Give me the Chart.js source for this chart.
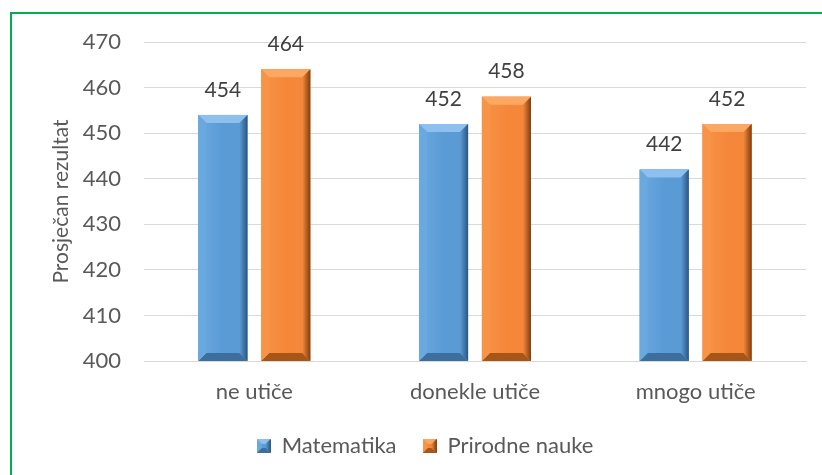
<!DOCTYPE html>
<html>
<head>
<meta charset="utf-8">
<script src="https://cdn.jsdelivr.net/npm/chart.js@4/dist/chart.umd.min.js"></script>
<style>
  html, body { margin: 0; padding: 0; background: #fff; overflow: hidden; }
  #frame { position: absolute; left: 10px; top: 12px; width: 840px; height: 500px; border: 2px solid #00B050; }
  #wrap { position: absolute; left: 0; top: 0; width: 822px; height: 475px; }
</style>
</head>
<body>
<div id="frame"></div>
<div id="wrap"><canvas id="chart" width="822" height="475"></canvas></div>
<script>
const categories = ['ne utiče', 'donekle utiče', 'mnogo utiče'];
const matematika = [454, 452, 442];
const prirodneNauke = [464, 458, 452];
const yTicks = [400, 410, 420, 430, 440, 450, 460, 470];

// colours for each series: face, light bevel, dark bevel
const palette = [
  { face: '#5B9BD5', light: '#8DC0EE', side: '#6AA8E0', dark: '#2A5680', bottom: '#3D6F9E' },
  { face: '#F5873A', light: '#FBA862', side: '#F79448', dark: '#7E3F10', bottom: '#A85518' }
];

const FONT = 'Lato, "Open Sans", sans-serif';

function bevelRect(ctx, l, t, r, bot, b, c) {
  const g = ctx.createLinearGradient(l, 0, r, 0);
  g.addColorStop(0, c.side);
  g.addColorStop(0.5, c.face);
  g.addColorStop(1, c.face);
  ctx.fillStyle = g;
  ctx.fillRect(l, t, r - l, bot - t);
  const poly = (pts, col) => {
    ctx.beginPath();
    ctx.moveTo(pts[0][0], pts[0][1]);
    for (let i = 1; i < pts.length; i++) ctx.lineTo(pts[i][0], pts[i][1]);
    ctx.closePath();
    ctx.fillStyle = col;
    ctx.fill();
  };
  poly([[l, t], [r, t], [r - b, t + b], [l + b, t + b]], c.light);
  poly([[l, bot], [r, bot], [r - b, bot - b], [l + b, bot - b]], c.bottom);
  poly([[l, t], [l + b, t + b], [l + b, bot - b], [l, bot]], c.side);
  const gr = ctx.createLinearGradient(r - b, 0, r, 0);
  gr.addColorStop(0, c.face);
  gr.addColorStop(1, c.dark);
  poly([[r, t], [r - b, t + b], [r - b, bot - b], [r, bot]], gr);
}

function legendIcon(c) {
  const cv = document.createElement('canvas');
  cv.width = 14; cv.height = 14;
  bevelRect(cv.getContext('2d'), 0, 0, 14, 14, 5, c);
  return cv;
}

const bevelBars = {
  id: 'bevelBars',
  afterDatasetsDraw(chart) {
    const ctx = chart.ctx;
    const area = chart.chartArea;
    chart.data.datasets.forEach((ds, i) => {
      chart.getDatasetMeta(i).data.forEach((bar, j) => {
        const p = bar.getProps(['x', 'y', 'base', 'width'], true);
        const l = p.x - p.width / 2, r = p.x + p.width / 2;
        const bot = Math.min(p.base, area.bottom);
        ctx.save();
        bevelRect(ctx, l, p.y, r, bot, 8, palette[i]);
        ctx.font = '21px ' + FONT;
        ctx.fillStyle = '#404040';
        ctx.textAlign = 'center';
        ctx.textBaseline = 'middle';
        ctx.fillText(ds.data[j], p.x, p.y - 25);
        ctx.restore();
      });
    });
  }
};

new Chart(document.getElementById('chart'), {
  type: 'bar',
  data: {
    labels: categories,
    datasets: [
      { label: 'Matematika', data: matematika, backgroundColor: palette[0].face, pointStyle: legendIcon(palette[0]) },
      { label: 'Prirodne nauke', data: prirodneNauke, backgroundColor: palette[1].face, pointStyle: legendIcon(palette[1]) }
    ]
  },
  options: {
    responsive: false,
    animation: false,
    events: [],
    datasets: { bar: { categoryPercentage: 0.57, barPercentage: 0.78 } },
    layout: { padding: { left: 44, right: 16, top: 42, bottom: 8 } },
    plugins: {
      tooltip: { enabled: false },
      legend: {
        position: 'bottom',
        labels: {
          usePointStyle: true,
          color: '#595959',
          font: { family: FONT, size: 22 },
          padding: 26,
          boxWidth: 14,
          boxHeight: 14
        }
      }
    },
    scales: {
      x: {
        grid: { display: false },
        border: { display: true, color: '#D9D9D9', width: 1 },
        ticks: { color: '#595959', font: { family: FONT, size: 22 }, padding: 10 },
        afterFit: s => { s.height = 48; }
      },
      y: {
        min: 400,
        max: 470,
        afterBuildTicks: s => { s.ticks = yTicks.map(v => ({ value: v })); },
        grid: { color: '#D9D9D9', drawTicks: false },
        border: { display: false },
        ticks: { color: '#595959', font: { family: FONT, size: 22 }, padding: 23 },
        title: {
          display: true,
          text: 'Prosječan rezultat',
          color: '#595959',
          font: { family: FONT, size: 21 },
          padding: { top: 5, bottom: 0 }
        },
        afterFit: s => { s.width = 100; }
      }
    }
  },
  plugins: [bevelBars]
});
</script>
</body>
</html>
